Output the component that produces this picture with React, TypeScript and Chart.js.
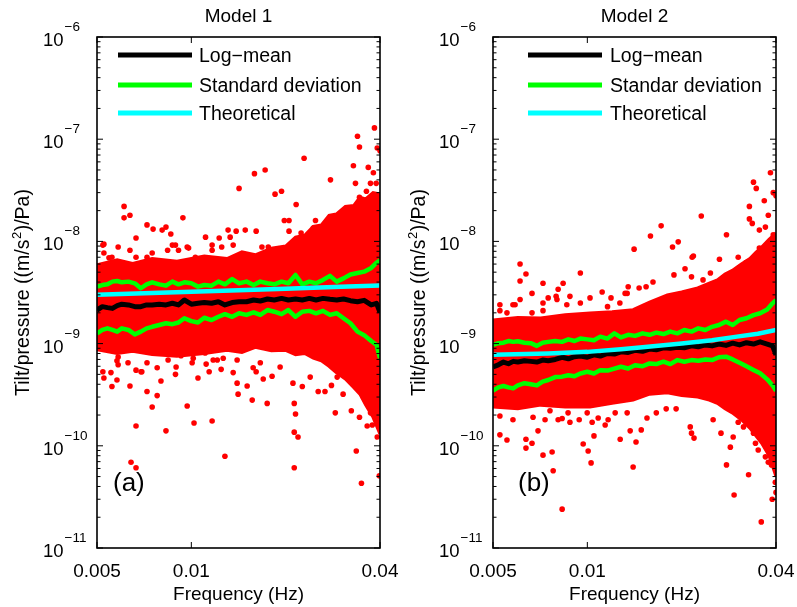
import React, { useEffect, useRef } from "react";
import { Chart, registerables } from "chart.js";

Chart.register(...registerables);

// ---------------- data ----------------
const X_TICKS = [0.005, 0.01, 0.04];
const X_TICK_LABELS = ["0.005", "0.01", "0.04"];
const Y_TICKS = [1e-11, 1e-10, 1e-9, 1e-8, 1e-7, 1e-6];
const Y_TICK_EXPONENTS = ["\u221211", "\u221210", "\u22129", "\u22128", "\u22127", "\u22126"];
const Y_MINOR_FACTORS = [2, 3, 4, 5, 6, 7, 8, 9];

const LEGEND_LABELS_1 = ["Log\u2212mean", "Standard deviation", "Theoretical"];
const LEGEND_LABELS_2 = ["Log\u2212mean", "Standar deviation", "Theoretical"];

// frequencies at which the log-mean / std curves are read
const LINE_FREQ = [
  0.005, 0.0052, 0.0054, 0.0056, 0.0058, 0.006, 0.0063, 0.0066, 0.0069, 0.0072,
  0.0075, 0.0079, 0.0083, 0.0087, 0.0091, 0.0095, 0.01, 0.0105, 0.011, 0.0116,
  0.0122, 0.0128, 0.0135, 0.0142, 0.015, 0.0158, 0.0166, 0.0175, 0.0184, 0.0194,
  0.0204, 0.0215, 0.0226, 0.0238, 0.025, 0.0263, 0.0277, 0.0291, 0.0306, 0.0322,
  0.0339, 0.0356, 0.0375, 0.039, 0.04,
];

// ---- Model 1 ----
const M1_LOGMEAN = [
  2.13e-9, 2.3e-9, 2.25e-9, 2.21e-9, 2.35e-9, 2.43e-9, 2.39e-9, 2.3e-9, 2.3e-9, 2.39e-9,
  2.39e-9, 2.43e-9, 2.39e-9, 2.48e-9, 2.39e-9, 2.67e-9, 2.43e-9, 2.48e-9, 2.52e-9, 2.48e-9,
  2.57e-9, 2.39e-9, 2.52e-9, 2.57e-9, 2.57e-9, 2.67e-9, 2.61e-9, 2.73e-9, 2.67e-9, 2.77e-9,
  2.67e-9, 2.73e-9, 2.67e-9, 2.77e-9, 2.67e-9, 2.77e-9, 2.71e-9, 2.67e-9, 2.73e-9, 2.63e-9,
  2.57e-9, 2.65e-9, 2.39e-9, 2.48e-9, 2.02e-9,
];
const M1_STD_UPPER = [
  3.61e-9, 3.74e-9, 3.8e-9, 4.04e-9, 4.1e-9, 3.98e-9, 4.04e-9, 3.89e-9, 3.48e-9, 3.8e-9,
  3.98e-9, 3.8e-9, 3.69e-9, 4.04e-9, 3.8e-9, 3.98e-9, 3.89e-9, 3.61e-9, 3.74e-9, 3.69e-9,
  4.04e-9, 3.8e-9, 4.28e-9, 3.89e-9, 4.04e-9, 3.74e-9, 4.04e-9, 3.89e-9, 3.8e-9, 4.04e-9,
  3.89e-9, 4.69e-9, 3.8e-9, 4.04e-9, 3.89e-9, 4.2e-9, 4.6e-9, 4.04e-9, 4.35e-9, 4.75e-9,
  4.9e-9, 5.06e-9, 5.5e-9, 6.2e-9, 6.5e-9,
];
const M1_STD_LOWER = [
  1.26e-9, 1.36e-9, 1.41e-9, 1.36e-9, 1.31e-9, 1.41e-9, 1.36e-9, 1.23e-9, 1.31e-9, 1.41e-9,
  1.46e-9, 1.52e-9, 1.58e-9, 1.55e-9, 1.61e-9, 1.77e-9, 1.66e-9, 1.61e-9, 1.79e-9, 1.7e-9,
  1.83e-9, 1.94e-9, 1.83e-9, 1.98e-9, 1.91e-9, 2.02e-9, 1.91e-9, 2.13e-9, 2.05e-9, 1.94e-9,
  2.13e-9, 1.83e-9, 2.05e-9, 2.09e-9, 1.98e-9, 2.09e-9, 1.91e-9, 1.98e-9, 1.77e-9, 1.58e-9,
  1.31e-9, 1.21e-9, 1.06e-9, 0.97e-9, 0.72e-9,
];
const M1_THEORY_FREQ = [0.005, 0.01, 0.02, 0.03, 0.04];
const M1_THEORY = [3.0e-9, 3.22e-9, 3.45e-9, 3.6e-9, 3.7e-9];

// dense cloud of samples (upper / lower edge of the solid red core)
const M1_CORE_FREQ = [
  0.005, 0.0058, 0.0065, 0.0075, 0.009, 0.011, 0.013, 0.0145, 0.016, 0.018, 0.02, 0.0215,
  0.023, 0.0245, 0.026, 0.0275, 0.029, 0.031, 0.033, 0.0345, 0.036, 0.038, 0.04,
];
const M1_CORE_HIGH = [
  5.9e-9, 6.6e-9, 6.1e-9, 6.8e-9, 6.4e-9, 7.2e-9, 6.8e-9, 7.9e-9, 7.4e-9, 8.6e-9, 9.0e-9, 1.1e-8,
  1.15e-8, 1.4e-8, 1.45e-8, 1.8e-8, 1.85e-8, 2.2e-8, 2.25e-8, 2.7e-8, 2.6e-8, 3.0e-8, 2.9e-8,
];
const M1_CORE_LOW = [
  0.87e-9, 0.8e-9, 0.84e-9, 0.78e-9, 0.75e-9, 0.8e-9, 0.86e-9, 0.82e-9, 0.92e-9, 0.85e-9, 0.86e-9, 0.78e-9,
  0.8e-9, 0.72e-9, 0.68e-9, 0.6e-9, 0.52e-9, 0.45e-9, 0.37e-9, 0.32e-9, 0.25e-9, 0.19e-9, 0.13e-9,
];

// individual samples outside the core: [frequency, tilt/pressure]
const M1_SAMPLES: [number, number][] = [
  [0.0384, 1.29e-7], [0.0339, 1.07e-7], [0.0344, 8.4e-8], [0.0392, 8.2e-8], [0.04, 7.7e-8],
  [0.0229, 6.5e-8], [0.0172, 5.0e-8], [0.0159, 4.6e-8], [0.0329, 5.5e-8], [0.0367, 5.3e-8],
  [0.0142, 3.3e-8], [0.0194, 3.1e-8], [0.0185, 2.9e-8], [0.0278, 4.0e-8], [0.0334, 3.7e-8],
  [0.0381, 4.7e-8], [0.0373, 3.7e-8], [0.0389, 3.7e-8], [0.0216, 2.3e-8], [0.0344, 2.7e-8],
  [0.0362, 3.1e-8], [0.0351, 2.2e-8], [0.0381, 2.7e-8], [0.0061, 2.2e-8], [0.0061, 1.7e-8],
  [0.00637, 1.8e-8], [0.0094, 1.7e-8], [0.0198, 1.6e-8], [0.0205, 1.6e-8], [0.0249, 1.6e-8],
  [0.0245, 1.35e-8], [0.00526, 9.4e-9], [0.00666, 1.08e-8], [0.00722, 1.45e-8], [0.00755, 1.32e-8],
  [0.00807, 1.29e-8], [0.0083, 1.38e-8], [0.0086, 1.18e-8], [0.0089, 9.2e-9], [0.0097, 8.8e-9],
  [0.01165, 9.2e-9], [0.01227, 1.08e-8], [0.0133, 1.1e-8], [0.0139, 1.26e-8], [0.01486, 1.29e-8],
  [0.0161, 1.26e-8], [0.0168, 8.8e-9], [0.0176, 8.8e-9], [0.0205, 1.26e-8], [0.0224, 1.21e-8],
  [0.0272, 1.48e-8], [0.0286, 1.32e-8], [0.0294, 1.48e-8], [0.0315, 1.35e-8], [0.0321, 2.0e-8],
  [0.0334, 1.9e-8], [0.0351, 1.6e-8], [0.0378, 1.6e-8], [0.00526, 7.7e-9], [0.00546, 6.9e-9],
  [0.00584, 8.8e-9],
  [0.00522, 9.2e-9], [0.00558, 7.0e-9], [0.00637, 8.2e-9], [0.00666, 7.0e-9], [0.00722, 7.0e-9],
  [0.0075, 7.7e-9], [0.0084, 8.2e-9], [0.0087, 9.2e-9], [0.0091, 8.2e-9], [0.0098, 8.6e-9],
  [0.0103, 7.0e-9], [0.0111, 1.1e-8], [0.01165, 8.2e-9], [0.0125, 8.8e-9], [0.0131, 1.29e-8],
  [0.0136, 9.2e-9],
  [0.00642, 6.9e-11], [0.00666, 6.1e-11], [0.00666, 1.56e-10], [0.0083, 1.4e-10], [0.0102, 1.67e-10],
  [0.01165, 1.75e-10], [0.0128, 7.9e-11], [0.0097, 2.45e-10], [0.0075, 2.4e-10], [0.00637, 3.85e-10],
  [0.00579, 4.4e-10], [0.00526, 4.6e-10], [0.00522, 5.3e-10], [0.00554, 5.2e-10], [0.00579, 6.8e-10],
  [0.00628, 6.5e-10], [0.00666, 5.5e-10], [0.00691, 5.3e-10], [0.00722, 3.4e-10], [0.00778, 3.1e-10],
  [0.008, 4.3e-10], [0.0089, 5.0e-10], [0.00894, 5.9e-10], [0.0105, 4.6e-10], [0.01115, 6.3e-10],
  [0.0114, 5.3e-10], [0.01245, 5.6e-10], [0.0136, 5.2e-10], [0.014, 4.1e-10], [0.0141, 3.2e-10],
  [0.01564, 2.8e-10], [0.0161, 5.3e-10], [0.01696, 4.5e-10], [0.0181, 4.8e-10], [0.01746, 2.6e-10],
  [0.0213, 2.6e-10], [0.0215, 2.05e-10], [0.0213, 1.36e-10], [0.0219, 1.22e-10], [0.0213, 6.1e-11],
  [0.0226, 3.8e-10], [0.0254, 3.4e-10], [0.0267, 3.4e-10], [0.028, 3.9e-10], [0.0288, 2.1e-10],
  [0.0305, 3.2e-10], [0.0324, 2.2e-10], [0.0336, 8.9e-11], [0.0344, 1.9e-10], [0.0349, 4.3e-11],
  [0.0364, 1.56e-10], [0.0378, 1.6e-10], [0.0392, 1.22e-10], [0.0398, 5.1e-11], [0.0392, 2.1e-10],
  [0.0373, 2.1e-10], [0.0327, 4.2e-10], [0.0354, 3.0e-10], [0.0292, 4.7e-10], [0.01575, 5.8e-10],
  [0.01507, 3.85e-10], [0.00843, 6.9e-10], [0.01014, 7.2e-10], [0.01174, 6.9e-10], [0.01264, 7.2e-10],
  [0.014, 6.9e-10], [0.0166, 6.5e-10], [0.0192, 5.9e-10], [0.0211, 4.1e-10], [0.02395, 4.7e-10],
  [0.00584, 7.4e-10], [0.00584, 6.2e-10], [0.00558, 3.8e-10], [0.00695, 5.3e-10], [0.00722, 6.5e-10],
  [0.00778, 5.8e-10], [0.00825, 8.6e-10], [0.00927, 7.6e-10], [0.01006, 6.5e-10], [0.01107, 8.1e-10],
  [0.0121, 6.9e-10],
];

// ---- Model 2 ----
const M2_LOGMEAN = [
  0.59e-9, 0.62e-9, 0.66e-9, 0.635e-9, 0.67e-9, 0.66e-9, 0.68e-9, 0.67e-9, 0.66e-9, 0.69e-9,
  0.68e-9, 0.7e-9, 0.735e-9, 0.71e-9, 0.745e-9, 0.755e-9, 0.735e-9, 0.775e-9, 0.755e-9, 0.8e-9,
  0.79e-9, 0.83e-9, 0.82e-9, 0.86e-9, 0.84e-9, 0.885e-9, 0.87e-9, 0.91e-9, 0.9e-9, 0.92e-9,
  0.91e-9, 0.95e-9, 0.93e-9, 0.97e-9, 0.95e-9, 0.99e-9, 0.96e-9, 1.01e-9, 0.97e-9, 1.02e-9,
  0.99e-9, 1.04e-9, 0.99e-9, 0.95e-9, 0.775e-9,
];
const M2_STD_UPPER = [
  0.975e-9, 1.01e-9, 1.02e-9, 1.06e-9, 1.04e-9, 1.055e-9, 1.02e-9, 1.01e-9, 0.95e-9, 1.02e-9,
  1.04e-9, 1.06e-9, 1.04e-9, 1.1e-9, 1.06e-9, 1.12e-9, 1.1e-9, 1.08e-9, 1.17e-9, 1.12e-9,
  1.26e-9, 1.15e-9, 1.22e-9, 1.19e-9, 1.26e-9, 1.22e-9, 1.28e-9, 1.24e-9, 1.31e-9, 1.26e-9,
  1.36e-9, 1.31e-9, 1.41e-9, 1.36e-9, 1.46e-9, 1.52e-9, 1.64e-9, 1.52e-9, 1.7e-9, 1.77e-9,
  1.9e-9, 1.98e-9, 2.16e-9, 2.48e-9, 2.67e-9,
];
const M2_STD_LOWER = [
  0.346e-9, 0.373e-9, 0.385e-9, 0.373e-9, 0.365e-9, 0.39e-9, 0.41e-9, 0.4e-9, 0.39e-9, 0.425e-9,
  0.44e-9, 0.47e-9, 0.475e-9, 0.49e-9, 0.48e-9, 0.51e-9, 0.53e-9, 0.51e-9, 0.55e-9, 0.545e-9,
  0.57e-9, 0.594e-9, 0.57e-9, 0.615e-9, 0.6e-9, 0.64e-9, 0.63e-9, 0.665e-9, 0.63e-9, 0.69e-9,
  0.665e-9, 0.69e-9, 0.68e-9, 0.7e-9, 0.69e-9, 0.735e-9, 0.745e-9, 0.7e-9, 0.65e-9, 0.6e-9,
  0.552e-9, 0.512e-9, 0.447e-9, 0.39e-9, 0.346e-9,
];
const M2_THEORY_FREQ = [0.005, 0.0075, 0.01, 0.0128, 0.015, 0.02, 0.025, 0.03, 0.035, 0.04];
const M2_THEORY = [0.78e-9, 0.8e-9, 0.83e-9, 0.88e-9, 0.92e-9, 1.0e-9, 1.08e-9, 1.17e-9, 1.25e-9, 1.36e-9];

const M2_CORE_FREQ = [
  0.005, 0.006, 0.0071, 0.0085, 0.0102, 0.012, 0.014, 0.0158, 0.018, 0.02, 0.0225,
  0.0245, 0.026, 0.0275, 0.029, 0.031, 0.033, 0.0345, 0.036, 0.038, 0.04,
];
const M2_CORE_HIGH = [
  1.7e-9, 1.8e-9, 1.78e-9, 1.92e-9, 1.99e-9, 2.05e-9, 2.15e-9, 2.55e-9, 3.0e-9, 3.2e-9, 3.5e-9,
  3.9e-9, 4.2e-9, 4.8e-9, 5.2e-9, 6.0e-9, 6.8e-9, 7.8e-9, 8.8e-9, 1.05e-8, 1.21e-8,
];
const M2_CORE_LOW = [
  0.24e-9, 0.23e-9, 0.25e-9, 0.24e-9, 0.24e-9, 0.26e-9, 0.28e-9, 0.32e-9, 0.33e-9, 0.31e-9, 0.3e-9,
  0.28e-9, 0.26e-9, 0.23e-9, 0.21e-9, 0.18e-9, 0.149e-9, 0.125e-9, 0.106e-9, 0.08e-9, 0.05e-9,
];

const M2_SAMPLES: [number, number][] = [
  [0.0384, 4.7e-8], [0.0339, 3.8e-8], [0.0346, 3.3e-8], [0.0392, 3.0e-8], [0.04, 2.8e-8],
  [0.0367, 2.5e-8], [0.0329, 2.2e-8], [0.0329, 1.66e-8], [0.0336, 1.5e-8], [0.0378, 1.8e-8],
  [0.0231, 1.77e-8], [0.0278, 1.16e-8], [0.0172, 1.42e-8], [0.0159, 1.13e-8], [0.0187, 8.8e-9],
  [0.0195, 9.9e-9], [0.0141, 8.4e-9], [0.0218, 7.2e-9], [0.0264, 6.7e-9], [0.0354, 1.29e-8],
  [0.037, 1.38e-8], [0.0392, 1.16e-8], [0.0354, 8.6e-9], [0.0387, 1.03e-8], [0.0061, 6.0e-9],
  [0.0061, 4.1e-9], [0.00637, 4.8e-9], [0.00722, 3.9e-9], [0.00807, 3.4e-9], [0.00837, 3.9e-9],
  [0.0095, 4.9e-9], [0.0135, 3.6e-9], [0.0134, 3.1e-9], [0.01463, 3.5e-9], [0.0154, 3.6e-9],
  [0.0205, 5.4e-9], [0.0189, 4.7e-9], [0.0216, 7.0e-9], [0.0247, 4.9e-9], [0.0321, 6.2e-9],
  [0.0303, 7.0e-9], [0.00666, 3.1e-9], [0.01115, 3.2e-9], [0.00795, 2.9e-9], [0.0132, 3.1e-9],
  [0.0075, 2.8e-9], [0.0088, 2.9e-9], [0.0119, 2.8e-9], [0.00526, 2.4e-9], [0.00554, 2.0e-9],
  [0.00722, 2.1e-9], [0.00588, 2.4e-9], [0.0162, 4.0e-9], [0.0234, 4.2e-9], [0.0215, 4.5e-9],
  [0.00526, 2.1e-9], [0.00579, 2.4e-9], [0.0061, 2.7e-9], [0.00666, 2.0e-9], [0.00722, 2.5e-9],
  [0.008, 2.7e-9], [0.0086, 2.4e-9], [0.0095, 2.5e-9], [0.0102, 2.8e-9], [0.0116, 2.3e-9],
  [0.0127, 2.5e-9],
  [0.00526, 1.28e-10], [0.00554, 1.14e-10], [0.00637, 1.16e-10], [0.00637, 9.5e-11], [0.00666, 1.06e-10],
  [0.00722, 8.1e-11], [0.00772, 8.7e-11], [0.00778, 5.7e-11], [0.00696, 1.4e-10], [0.00831, 2.4e-11],
  [0.0097, 1.04e-10], [0.01006, 8.9e-11], [0.01028, 6.8e-11], [0.0105, 1.25e-10], [0.01273, 1.16e-10],
  [0.0137, 1.4e-10], [0.014, 6.2e-11], [0.00526, 1.96e-10], [0.00579, 1.8e-10], [0.00671, 1.9e-10],
  [0.00733, 1.8e-10], [0.0076, 2.2e-10], [0.00807, 1.8e-10], [0.00831, 1.85e-10], [0.0088, 1.7e-10],
  [0.00942, 1.8e-10], [0.01036, 1.7e-10], [0.01083, 1.87e-10], [0.01165, 1.8e-10], [0.0114, 1.6e-10],
  [0.00868, 2.1e-10], [0.00999, 2.1e-10], [0.01227, 2.1e-10], [0.0134, 2.1e-10], [0.0143, 1.09e-10],
  [0.01486, 1.43e-10], [0.0155, 1.87e-10], [0.0166, 2.1e-10], [0.01785, 2.3e-10], [0.0192, 2.3e-10],
  [0.0213, 1.53e-10], [0.0215, 1.33e-10], [0.0219, 1.19e-10], [0.0252, 1.8e-10], [0.0267, 1.33e-10],
  [0.0278, 6.5e-11], [0.0286, 9.7e-11], [0.0292, 1.22e-10], [0.0294, 3.3e-11], [0.0303, 1.7e-10],
  [0.0315, 1.53e-10], [0.0327, 5.2e-11], [0.0339, 1.33e-10], [0.0344, 1.06e-10], [0.0351, 9.1e-11],
  [0.0359, 1.8e-11], [0.037, 7.8e-11], [0.0378, 6.9e-11], [0.0384, 1.22e-10], [0.0389, 3.0e-11],
  [0.0398, 4.4e-11], [0.04, 3.5e-11], [0.0387, 6.5e-11],
];

// ---------------- styling ----------------
const FONT = '"Liberation Sans", Arial, Helvetica, sans-serif';
const RED = "#ff0000";
const GREEN = "#00ff00";
const CYAN = "#00ffff";
const BLACK = "#000000";

type Panel = {
  title: string;
  letter: string;
  legend: string[];
  area: { left: number; right: number; top: number; bottom: number };
  legendX0: number;
  legendX1: number;
  legendTextX: number;
  letterX: number;
  yTitleX: number;
  mean: number[];
  stdUp: number[];
  stdLo: number[];
  theoryF: number[];
  theory: number[];
  coreF: number[];
  coreHi: number[];
  coreLo: number[];
  samples: [number, number][];
};

const W = 797;
const H = 607;

const PANEL1: Panel = {
  title: "Model 1",
  letter: "(a)",
  legend: LEGEND_LABELS_1,
  area: { left: 97, right: 380, top: 37, bottom: 548 },
  legendX0: 118,
  legendX1: 192,
  legendTextX: 199,
  letterX: 113,
  yTitleX: 23,
  mean: M1_LOGMEAN,
  stdUp: M1_STD_UPPER,
  stdLo: M1_STD_LOWER,
  theoryF: M1_THEORY_FREQ,
  theory: M1_THEORY,
  coreF: M1_CORE_FREQ,
  coreHi: M1_CORE_HIGH,
  coreLo: M1_CORE_LOW,
  samples: M1_SAMPLES,
};

const PANEL2: Panel = {
  title: "Model 2",
  letter: "(b)",
  legend: LEGEND_LABELS_2,
  area: { left: 493, right: 776, top: 37, bottom: 548 },
  legendX0: 528,
  legendX1: 602,
  legendTextX: 610,
  letterX: 518,
  yTitleX: 419,
  mean: M2_LOGMEAN,
  stdUp: M2_STD_UPPER,
  stdLo: M2_STD_LOWER,
  theoryF: M2_THEORY_FREQ,
  theory: M2_THEORY,
  coreF: M2_CORE_FREQ,
  coreHi: M2_CORE_HIGH,
  coreLo: M2_CORE_LOW,
  samples: M2_SAMPLES,
};

const pts = (xs: number[], ys: number[]) => xs.map((x, i) => ({ x, y: ys[i] }));

function framePlugin(p: Panel) {
  return {
    id: "frame_" + p.letter,
    afterDatasetsDraw(chart: any) {
      const { ctx, chartArea: a, scales } = chart;
      const xs = scales.x;
      const ys = scales.y;
      ctx.save();
      ctx.strokeStyle = BLACK;
      const seg = (x0: number, y0: number, x1: number, y1: number) => {
        ctx.beginPath();
        ctx.moveTo(x0, y0);
        ctx.lineTo(x1, y1);
        ctx.stroke();
      };
      ctx.lineWidth = 1;
      Y_TICKS.forEach((t, i) => {
        const py = ys.getPixelForValue(t);
        seg(a.left, py, a.left + 6, py);
        seg(a.right, py, a.right - 6, py);
        if (i < Y_TICKS.length - 1) {
          Y_MINOR_FACTORS.forEach((m) => {
            const pm = ys.getPixelForValue(t * m);
            seg(a.left, pm, a.left + 3.5, pm);
            seg(a.right, pm, a.right - 3.5, pm);
          });
        }
      });
      X_TICKS.forEach((t) => {
        const px = xs.getPixelForValue(t);
        seg(px, a.bottom, px, a.bottom - 6);
        seg(px, a.top, px, a.top + 6);
      });
      ctx.lineWidth = 1.6;
      ctx.strokeRect(a.left, a.top, a.right - a.left, a.bottom - a.top);
      ctx.restore();
    },
    afterDraw(chart: any) {
      const { ctx, chartArea: a, scales } = chart;
      const xs = scales.x;
      const ys = scales.y;
      ctx.save();
      ctx.fillStyle = BLACK;
      ctx.textBaseline = "alphabetic";

      Y_TICKS.forEach((t, i) => {
        const py = ys.getPixelForValue(t);
        const x0 = a.left - 54;
        ctx.font = `18.5px ${FONT}`;
        ctx.textAlign = "left";
        ctx.fillText("10", x0, py + 9);
        const wb = ctx.measureText("10").width;
        ctx.font = `13.5px ${FONT}`;
        ctx.fillText(Y_TICK_EXPONENTS[i], x0 + wb + 1, py - 6);
      });

      ctx.font = `19px ${FONT}`;
      ctx.textAlign = "center";
      X_TICKS.forEach((t, i) => {
        ctx.fillText(X_TICK_LABELS[i], xs.getPixelForValue(t), a.bottom + 29);
      });
      const cx = (a.left + a.right) / 2;
      ctx.fillText("Frequency (Hz)", cx, 600);
      ctx.fillText(p.title, cx, 22);

      ctx.save();
      ctx.translate(p.yTitleX + 6, (a.top + a.bottom) / 2);
      ctx.rotate(-Math.PI / 2);
      const big = `19.5px ${FONT}`;
      const small = `13px ${FONT}`;
      const s1 = "Tilt/pressure ((m/s";
      const s2 = "2";
      const s3 = ")/Pa)";
      ctx.font = big;
      const w1 = ctx.measureText(s1).width;
      const w3 = ctx.measureText(s3).width;
      ctx.font = small;
      const w2 = ctx.measureText(s2).width;
      const total = w1 + w2 + w3 + 1;
      let x = -total / 2;
      ctx.textAlign = "left";
      ctx.font = big;
      ctx.fillText(s1, x, 0);
      x += w1;
      ctx.font = small;
      ctx.fillText(s2, x + 0.5, -8);
      x += w2 + 1;
      ctx.font = big;
      ctx.fillText(s3, x, 0);
      ctx.restore();

      const rows = [55, 85, 113];
      const colors = [BLACK, GREEN, CYAN];
      ctx.lineCap = "butt";
      rows.forEach((ry, i) => {
        ctx.strokeStyle = colors[i];
        ctx.lineWidth = 5;
        ctx.beginPath();
        ctx.moveTo(p.legendX0, ry);
        ctx.lineTo(p.legendX1, ry);
        ctx.stroke();
        ctx.fillStyle = BLACK;
        ctx.font = `19.5px ${FONT}`;
        ctx.textAlign = "left";
        ctx.fillText(p.legend[i], p.legendTextX, ry + 7);
      });

      ctx.font = `26px ${FONT}`;
      ctx.textAlign = "left";
      ctx.fillText(p.letter, p.letterX, 491);
      ctx.restore();
    },
  };
}

function makeConfig(p: Panel): any {
  const lineBase = { pointRadius: 0, tension: 0, fill: false, borderJoinStyle: "round", borderCapStyle: "butt" };
  return {
    type: "line",
    data: {
      datasets: [
        { ...lineBase, label: "Theoretical", data: pts(p.theoryF, p.theory), borderColor: CYAN, borderWidth: 4.5, order: 0 },
        { ...lineBase, label: "Log-mean", data: pts(LINE_FREQ, p.mean), borderColor: BLACK, borderWidth: 5, order: 1 },
        { ...lineBase, label: "Std upper", data: pts(LINE_FREQ, p.stdUp), borderColor: GREEN, borderWidth: 4.5, order: 2 },
        { ...lineBase, label: "Std lower", data: pts(LINE_FREQ, p.stdLo), borderColor: GREEN, borderWidth: 4.5, order: 3 },
        {
          label: "Samples",
          data: p.samples.map(([x, y]) => ({ x, y })),
          showLine: false,
          pointRadius: 2.8,
          pointBorderWidth: 0,
          pointBackgroundColor: RED,
          pointBorderColor: RED,
          order: 4,
        },
        {
          ...lineBase,
          label: "Core high",
          data: pts(p.coreF, p.coreHi),
          borderColor: RED,
          borderWidth: 3,
          borderJoinStyle: "miter",
          backgroundColor: RED,
          fill: "+1",
          order: 5,
        },
        {
          ...lineBase,
          label: "Core low",
          data: pts(p.coreF, p.coreLo),
          borderColor: RED,
          borderWidth: 3,
          borderJoinStyle: "miter",
          order: 6,
        },
      ],
    },
    options: {
      responsive: false,
      animation: false,
      devicePixelRatio: 1,
      events: [],
      layout: {
        padding: {
          left: p.area.left,
          right: W - p.area.right,
          top: p.area.top,
          bottom: H - p.area.bottom,
        },
      },
      scales: {
        x: { type: "logarithmic", min: 0.005, max: 0.04, display: false },
        y: { type: "logarithmic", min: 1e-11, max: 1e-6, display: false },
      },
      plugins: {
        legend: { display: false },
        tooltip: { enabled: false },
        title: { display: false },
      },
    },
    plugins: [framePlugin(p)],
  };
}

export default function App() {
  const ref1 = useRef<HTMLCanvasElement>(null);
  const ref2 = useRef<HTMLCanvasElement>(null);
  useEffect(() => {
    const c1 = new Chart(ref1.current as HTMLCanvasElement, makeConfig(PANEL1));
    const c2 = new Chart(ref2.current as HTMLCanvasElement, makeConfig(PANEL2));
    return () => {
      c1.destroy();
      c2.destroy();
    };
  }, []);
  return (
    <div style={{ position: "fixed", left: 0, top: 0, width: W, height: H, background: "#ffffff", overflow: "hidden" }}>
      <canvas ref={ref1} width={W} height={H} style={{ position: "absolute", left: 0, top: 0 }} />
      <canvas ref={ref2} width={W} height={H} style={{ position: "absolute", left: 0, top: 0 }} />
    </div>
  );
}
